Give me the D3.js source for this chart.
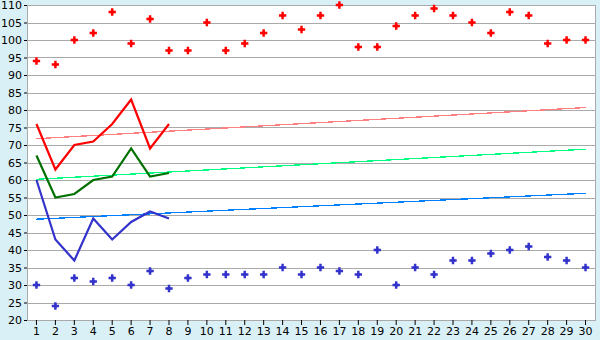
<!DOCTYPE html>
<html>
<head>
<meta charset="utf-8">
<script src="https://cdn.jsdelivr.net/npm/d3@7"></script>
<style>
  body { margin: 0; background: #d9f0f7; }
  svg { display: block; }
  text { font-family: "DejaVu Sans", Verdana, sans-serif; font-size: 11px; fill: #000; }
</style>
</head>
<body>
<svg id="chart" width="600" height="340"></svg>
<script>
const days = d3.range(1, 31);
const highPoints = [94, 93, 100, 102, 108, 99, 106, 97, 97, 105, 97, 99, 102, 107, 103, 107, 110, 98, 98, 104, 107, 109, 107, 105, 102, 108, 107, 99, 100, 100];
const lowPoints = [30, 24, 32, 31, 32, 30, 34, 29, 32, 33, 33, 33, 33, 35, 33, 35, 34, 33, 40, 30, 35, 33, 37, 37, 39, 40, 41, 38, 37, 35];
const redLine = [76, 63, 70, 71, 76, 83, 69, 76];
const greenLine = [67, 55, 56, 60, 61, 69, 61, 62];
const blueLine = [60, 43, 37, 49, 43, 48, 51, 49];
// trend lines: [value at day 1, value at day 30]
const redTrend = [71.8, 80.7];
const greenTrend = [60.2, 68.8];
const blueTrend = [48.8, 56.2];
const yTicks = d3.range(20, 111, 5);

const svg = d3.select('#chart');
const margin = { top: 5, right: 5, bottom: 20, left: 27 };
const width = 600 - margin.left - margin.right;
const height = 340 - margin.top - margin.bottom;

const g = svg.append("g").attr("transform", `translate(${margin.left},${margin.top})`);

const x = d3.scaleBand().domain(days).range([0, width]);
const cx = d => x(d) + x.bandwidth() / 2;
const y = d3.scaleLinear().domain([20, 110]).range([height, 0]);

g.append("rect")
    .attr("width", width)
    .attr("height", height)
    .attr("fill", "#fff");

// grid
g.append("g")
    .selectAll("line")
    .data(yTicks)
    .join("line")
    .attr("x1", 0)
    .attr("x2", width)
    .attr("y1", d => Math.round(y(d)) + 0.5)
    .attr("y2", d => Math.round(y(d)) + 0.5)
    .attr("stroke", "#aaaaaa")
    .attr("stroke-width", 1);

g.append("rect")
    .attr("x", 0.5)
    .attr("y", 0.5)
    .attr("width", width)
    .attr("height", height)
    .attr("fill", "none")
    .attr("stroke", "#aaaaaa");

// y axis
const yAxis = g.append("g")
    .call(d3.axisLeft(y).tickValues(yTicks).tickSize(3).tickPadding(2));
yAxis.select(".domain").attr("stroke", "#aaaaaa");
yAxis.selectAll(".tick line").attr("stroke", "#000");
yAxis.selectAll("text").style("font-size", "11px").attr("font-family", null);

// x axis
const xAxis = g.append("g")
    .attr("transform", `translate(0,${height})`)
    .call(d3.axisBottom(x).tickSize(5).tickPadding(2).tickSizeOuter(0));
xAxis.select(".domain").attr("stroke", "#aaaaaa");
xAxis.selectAll(".tick line").attr("stroke", "#000");
xAxis.selectAll("text").style("font-size", "11px").attr("font-family", null);

// trend lines
const trends = [
    { v: redTrend, c: "#ff8080" },
    { v: greenTrend, c: "#00ff80" },
    { v: blueTrend, c: "#0080ff" }
];
g.append("g")
    .selectAll("line")
    .data(trends)
    .join("line")
    .attr("x1", cx(days[0]))
    .attr("x2", cx(days[days.length - 1]))
    .attr("y1", d => y(d.v[0]))
    .attr("y2", d => y(d.v[1]))
    .attr("stroke", d => d.c)
    .attr("stroke-width", 1.3)
    .attr("shape-rendering", "crispEdges");

// lines
const line = d3.line()
    .x((d, i) => cx(days[i]))
    .y(d => y(d));

[[redLine, "#ff0000"], [greenLine, "#007000"], [blueLine, "#3333cc"]].forEach(([data, color]) => {
    g.append("path")
        .datum(data)
        .attr("d", line)
        .attr("fill", "none")
        .attr("stroke", color)
        .attr("stroke-width", 2.2);
});

// points: small cross with filled centre
const cross = d3.symbol().type(d3.symbolCross).size(30);
const dot = d3.symbol().type(d3.symbolSquare).size(9);
function drawPoints(data, color) {
    const pg = g.append("g")
        .selectAll("g")
        .data(data)
        .join("g")
        .attr("transform", (d, i) => `translate(${cx(days[i])},${y(d)})`)
        .attr("fill", color);
    pg.append("path").attr("d", cross);
    pg.append("path").attr("d", dot);
}
drawPoints(highPoints, "#ff0000");
drawPoints(lowPoints, "#3333cc");
</script>
</body>
</html>
